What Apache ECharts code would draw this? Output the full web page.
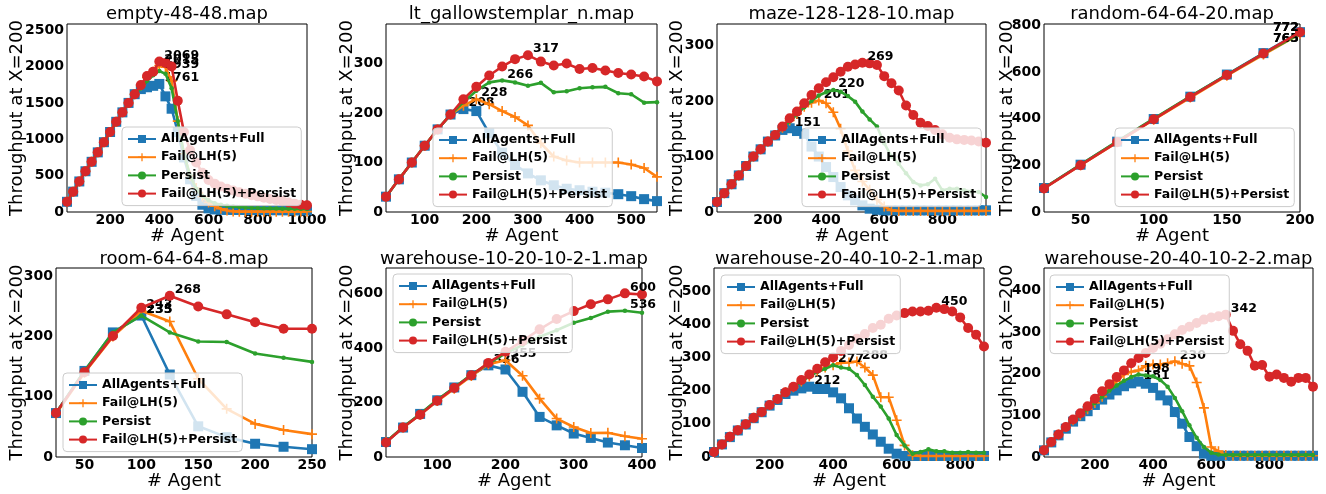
<!DOCTYPE html>
<html><head><meta charset="utf-8">
<script src="https://cdn.jsdelivr.net/npm/echarts@6/dist/echarts.min.js"></script>
<style>html,body{margin:0;padding:0;background:#fff}#c{width:1326px;height:494px}</style>
</head><body><div id="c"></div>
<script>
const seriesNames = ['AllAgents+Full', 'Fail@LH(5)', 'Persist', 'Fail@LH(5)+Persist'];
const mapTitles = ['empty-48-48.map', 'lt_gallowstemplar_n.map', 'maze-128-128-10.map', 'random-64-64-20.map',
  'room-64-64-8.map', 'warehouse-10-20-10-2-1.map', 'warehouse-20-40-10-2-1.map', 'warehouse-20-40-10-2-2.map'];

// ---- empty-48-48 ----
const emptyAgents = [25,50,75,100,125,150,175,200,225,250,275,300,325,350,375,400,425,450,475,500,525,550,575,600,625,650,675,700,725,750,775,800,825,850,875,900,925,950,975,1000];
const emptyFull = [140,280,420,560,690,820,960,1100,1240,1370,1500,1620,1690,1715,1735,1761,1590,1420,1100,750,450,220,100,50,35,32,30,30,28,28,27,27,26,26,25,25,24,24,23,23];
const emptyFail = [140,280,420,560,690,820,960,1100,1240,1370,1500,1620,1740,1850,1930,2015,1990,1800,1250,800,500,330,210,130,80,45,20,8,5,5,5,5,5,5,5,5,5,5,5,5];
const emptyPersist = [140,280,420,560,690,820,960,1100,1240,1370,1500,1620,1700,1800,1880,1939,1900,1700,1250,800,500,320,220,160,120,100,85,75,68,62,58,55,52,50,48,46,45,44,43,42];
const emptyFailPersist = [140,280,420,560,690,820,960,1100,1240,1370,1500,1620,1745,1870,1930,2069,2050,2000,1530,1100,850,680,540,440,390,350,320,295,270,250,230,215,195,180,165,150,130,115,100,92];

// ---- lt_gallowstemplar_n ----
const gallowsAgents = [25,50,75,100,125,150,175,200,225,250,275,300,325,350,375,400,425,450,475,500,525,550];
const gallowsFull = [31,66,100,134,167,197,208,204,159,120,95,78,64,54,47,44,41,39,36,32,26,22];
const gallowsFail = [31,66,100,134,167,197,215,228,218,204,192,175,139,112,104,100,100,100,100,96,89,71];
const gallowsPersist = [31,66,100,134,167,197,222,245,262,266,262,255,261,242,244,250,252,253,240,238,221,222];
const gallowsFailPersist = [31,66,100,134,167,197,228,253,276,294,309,317,304,296,300,289,291,286,281,278,274,264];

// ---- maze-128-128-10 ----
const mazeAgents = [25,50,75,100,125,150,175,200,225,250,275,300,325,350,375,400,425,450,475,500,525,550,575,600,625,650,675,700,725,750,775,800,825,850,875,900,925,950];
const mazeFull = [18,34,50,66,83,100,113,127,138,148,151,146,141,118,100,81,63,45,30,21,12,6,4,3,3,3,3,3,3,3,3,3,3,3,3,3,3,3];
const mazeFail = [18,34,50,66,83,100,113,127,139,152,165,177,190,197,201,196,180,150,110,75,55,40,22,10,3,2,2,2,2,2,2,2,2,2,2,2,2,2];
const mazePersist = [18,34,50,66,83,100,113,127,139,154,163,176,189,200,210,216,220,217,209,199,181,167,154,124,100,87,70,54,48,50,60,39,42,42,39,37,36,27];
const mazeFailPersist = [18,34,50,66,83,100,113,127,139,154,169,181,196,211,223,234,243,253,262,266,269,268,265,245,232,219,192,175,161,155,148,140,134,131,130,129,127,125];

// ---- random-64-64-20 ----
const randomAgents = [25,50,75,100,125,150,175,200];
const randomFull = [103,203,302,399,495,590,682,772];
const randomFail = [102,201,299,396,491,585,676,765];
const randomPersist = [103,204,303,401,496,589,680,765];
const randomFailPersist = [101,201,300,398,494,588,680,772];

// ---- room-64-64-8 ----
const roomAgents = [25,50,75,100,125,150,175,200,225,250];
const roomFull = [73,143,207,235,137,51,33,22,17,13];
const roomFail = [72,140,200,243,225,130,80,55,45,38];
const roomPersist = [73,143,207,235,207,192,191,172,165,158];
const roomFailPersist = [73,141,201,248,268,250,237,224,213,213];

// ---- warehouse-10-20-10-2-1 ----
const wh1Agents = [25,50,75,100,125,150,175,200,225,250,275,300,325,350,375,400];
const wh1Full = [55,108,158,208,255,300,336,321,239,147,116,86,70,53,43,33];
const wh1Fail = [55,108,155,205,250,297,340,355,298,214,141,110,88,89,76,67];
const wh1Persist = [55,110,158,210,255,302,342,380,410,441,465,492,510,533,536,529];
const wh1FailPersist = [53,108,155,206,253,300,345,386,425,468,506,535,560,578,600,596];

// ---- warehouse-20-40-10-2-1 ----
const wh2Agents = [25,50,75,100,125,150,175,200,225,250,275,300,325,350,375,400,425,450,475,500,525,550,575,600,625,650,675,700,725,750,775,800,825,850,875];
const wh2Full = [15,38,60,80,98,117,135,155,172,190,200,207,212,205,205,195,177,147,116,91,68,46,25,10,3,3,3,3,3,3,3,3,3,3,3];
const wh2Fail = [15,38,61,81,99,118,136,157,175,195,210,228,243,260,270,277,284,285,288,270,247,180,180,111,35,5,3,3,3,3,3,3,3,3,3];
const wh2Persist = [15,38,61,81,99,118,136,157,175,195,210,228,243,256,266,277,270,266,247,217,182,152,116,66,35,10,15,23,17,17,13,13,15,13,13];
const wh2FailPersist = [15,38,61,81,99,118,136,157,175,195,212,232,249,266,286,300,320,338,357,371,389,399,417,427,434,439,439,441,450,446,439,421,389,369,333];

// ---- warehouse-20-40-10-2-2 ----
const wh3Agents = [25,50,75,100,125,150,175,200,225,250,275,300,325,350,375,400,425,450,475,500,525,550,575,600,625,650,675,700,725,750,775,800,825,850,875,900,925,950];
const wh3Full = [16,35,52,68,85,98,110,125,138,150,160,170,177,181,176,166,148,136,108,80,48,26,8,3,3,3,3,3,3,3,3,3,3,3,3,3,3,3];
const wh3Fail = [16,36,54,72,88,100,115,130,145,165,182,198,205,208,219,222,222,225,230,224,219,179,118,24,14,5,3,3,3,3,3,3,3,3,3,3,3,3];
const wh3Persist = [16,36,54,72,88,100,115,130,145,160,172,183,192,198,196,194,185,169,142,110,76,46,24,10,6,5,5,5,5,5,5,5,5,5,5,5,5,5];
const wh3FailPersist = [16,36,54,72,90,105,122,140,158,175,192,208,225,238,250,262,272,283,295,305,313,322,330,335,338,342,303,271,255,219,221,193,198,190,181,190,190,169];

// ---- tick labels ----
const emptyXTicks = [200,400,600,800,1000];
const emptyYTicks = [0,500,1000,1500,2000,2500];
const gallowsXTicks = [100,200,300,400,500];
const gallowsYTicks = [0,100,200,300];
const mazeXTicks = [200,400,600,800];
const mazeYTicks = [0,100,200,300];
const randomXTicks = [50,100,150,200];
const randomYTicks = [0,200,400,600,800];
const roomXTicks = [50,100,150,200,250];
const roomYTicks = [0,100,200,300];
const wh1XTicks = [100,200,300,400];
const wh1YTicks = [0,200,400,600];
const wh2XTicks = [200,400,600,800];
const wh2YTicks = [0,100,200,300,400,500];
const wh3XTicks = [200,400,600,800];
const wh3YTicks = [0,100,200,300,400];

const panels = [
  {x: emptyAgents, ys: [emptyFull, emptyFail, emptyPersist, emptyFailPersist], xt: emptyXTicks, yt: emptyYTicks},
  {x: gallowsAgents, ys: [gallowsFull, gallowsFail, gallowsPersist, gallowsFailPersist], xt: gallowsXTicks, yt: gallowsYTicks},
  {x: mazeAgents, ys: [mazeFull, mazeFail, mazePersist, mazeFailPersist], xt: mazeXTicks, yt: mazeYTicks},
  {x: randomAgents, ys: [randomFull, randomFail, randomPersist, randomFailPersist], xt: randomXTicks, yt: randomYTicks},
  {x: roomAgents, ys: [roomFull, roomFail, roomPersist, roomFailPersist], xt: roomXTicks, yt: roomYTicks},
  {x: wh1Agents, ys: [wh1Full, wh1Fail, wh1Persist, wh1FailPersist], xt: wh1XTicks, yt: wh1YTicks},
  {x: wh2Agents, ys: [wh2Full, wh2Fail, wh2Persist, wh2FailPersist], xt: wh2XTicks, yt: wh2YTicks},
  {x: wh3Agents, ys: [wh3Full, wh3Fail, wh3Persist, wh3FailPersist], xt: wh3XTicks, yt: wh3YTicks}
];

// layout (pixels) and axis ranges
const layout = [
  {l: 67,   t: 24,  w: 240, h: 188, yMax: 2585, gap: 41, lg: [122, 127], tt: 5},
  {l: 386,  t: 24,  w: 271, h: 188, yMax: 380,  gap: 30, lg: [433, 128], tt: 5},
  {l: 717,  t: 24,  w: 269, h: 188, yMax: 339,  gap: 31, lg: [802, 128], tt: 5},
  {l: 1044, t: 24,  w: 256, h: 188, yMax: 807,  gap: 28, lg: [1115, 128], tt: 5},
  {l: 56,   t: 268, w: 256, h: 189, yMax: 314,  gap: 30, lg: [63, 373], tt: 250},
  {l: 386,  t: 268, w: 256, h: 189, yMax: 693,  gap: 30, lg: [393, 274], tt: 250},
  {l: 714,  t: 268, w: 270, h: 189, yMax: 570,  gap: 28, lg: [721, 275], tt: 250},
  {l: 1044, t: 268, w: 269, h: 189, yMax: 454,  gap: 28, lg: [1050, 275], tt: 250}
];

const FONT = 'DejaVu Sans';
const styles = [
  {color: '#1f77b4', symbol: 'rect', size: 10},
  {color: '#ff7f0e', symbol: 'path://M0,4.2H10V5.8H0Z M4.2,0H5.8V10H4.2Z', size: 10},
  {color: '#2ca02c', symbol: 'circle', size: 4.5},
  {color: '#d62728', symbol: 'circle', size: 10}
];
// annotation placement: right of the peak by default; the random map annotates to the left
const labelLeft = [false, false, false, true, false, false, false, false];
const plain = v => String(v);

const grids = [], xAxes = [], yAxes = [], titles = [], legends = [], series = [];
panels.forEach((p, pi) => {
  const L = layout[pi];
  grids.push({left: L.l, top: L.t, width: L.w, height: L.h, show: true, borderColor: '#000', borderWidth: 1,
    backgroundColor: 'transparent', containLabel: false, outerBoundsMode: 'none'});
  titles.push({text: mapTitles[pi], left: L.l + L.w / 2, top: L.tt, textAlign: 'center', padding: 0,
    textStyle: {fontFamily: FONT, fontSize: 18, fontWeight: 'normal', color: '#000'}});
  xAxes.push({type: 'value', gridIndex: pi, min: p.x[0], max: p.x[p.x.length - 1],
    name: '# Agent', nameLocation: 'middle', nameGap: 15, nameMoveOverlap: false,
    nameTextStyle: {fontFamily: FONT, fontSize: 18, color: '#000'},
    axisLine: {show: false}, axisTick: {show: false}, splitLine: {show: false},
    axisLabel: {customValues: p.xt, formatter: plain, fontFamily: FONT, fontWeight: 'bold', fontSize: 14, color: '#000', margin: 1, hideOverlap: false}});
  yAxes.push({type: 'value', gridIndex: pi, min: 0, max: L.yMax,
    name: 'Throughput at X=200', nameLocation: 'middle', nameGap: L.gap, nameRotate: 90, nameMoveOverlap: false,
    nameTextStyle: {fontFamily: FONT, fontSize: 18, color: '#000'},
    axisLine: {show: false}, axisTick: {show: false}, splitLine: {show: false},
    axisLabel: {customValues: p.yt, formatter: plain, fontFamily: FONT, fontWeight: 'bold', fontSize: 14, color: '#000', margin: 3, hideOverlap: false}});
  legends.push({orient: 'vertical', left: L.lg[0], top: L.lg[1], data: seriesNames, z: 20,
    itemWidth: 28, itemHeight: 10, itemGap: 4.2, padding: [5, 5, 5, 5], selectedMode: false,
    backgroundColor: 'rgba(255,255,255,0.8)', borderColor: '#cccccc', borderWidth: 1, borderRadius: 4,
    textStyle: {fontFamily: FONT, fontWeight: 'bold', fontSize: 12.5, color: '#000', lineHeight: 14}});
  p.ys.forEach((vals, si) => {
    const st = styles[si];
    let mi = 0;
    vals.forEach((v, i) => { if (v > vals[mi]) mi = i; });
    const left = labelLeft[pi];
    const hiLabel = si === 0 || si === 3;
    const lab = left
      ? {position: [st.size / 2 - 1, st.size / 2 + (hiLabel ? -4 : 5)], align: 'right'}
      : {position: [st.size / 2 + 5, st.size / 2 - 6], align: 'left'};
    const data = p.x.map((xv, i) => i === mi ? {
      value: [xv, vals[i]],
      label: Object.assign({show: true, formatter: String(vals[i]), verticalAlign: 'middle',
        fontFamily: FONT, fontWeight: 'bold', fontSize: 12.5, color: '#000'}, lab)
    } : [xv, vals[i]]);
    series.push({type: 'line', name: seriesNames[si], xAxisIndex: pi, yAxisIndex: pi, data,
      symbol: st.symbol, symbolSize: st.size, showSymbol: true, showAllSymbol: true,
      lineStyle: {width: 2.6, color: st.color}, itemStyle: {color: st.color},
      emphasis: {disabled: true}, z: 2 + si, clip: true, animation: false});
  });
});

const chart = echarts.init(document.getElementById('c'), null, {renderer: 'canvas'});
chart.setOption({animation: false, backgroundColor: '#fff', title: titles, grid: grids, xAxis: xAxes, yAxis: yAxes, legend: legends, series});
</script></body></html>
